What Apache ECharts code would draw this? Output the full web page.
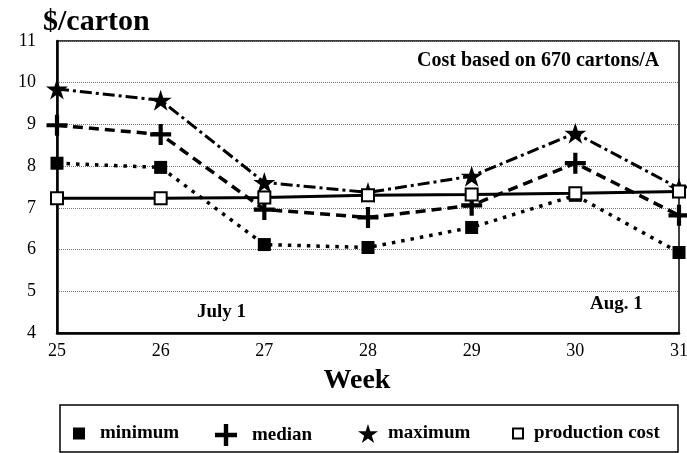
<!DOCTYPE html>
<html>
<head>
<meta charset="utf-8">
<script src="https://cdn.jsdelivr.net/npm/echarts@6/dist/echarts.min.js"></script>
<style>
    html, body { margin: 0; padding: 0; background: #fff; }
    #main { width: 687px; height: 453px; }
</style>
</head>
<body>
<div id="main"></div>
<script>
const weeks = ['25', '26', '27', '28', '29', '30', '31'];
const minimum = [8.07, 7.97, 6.12, 6.05, 6.53, 7.3, 5.93];
const median = [8.98, 8.76, 6.96, 6.77, 7.06, 8.07, 6.82];
const maximum = [9.85, 9.58, 7.61, 7.37, 7.76, 8.79, 7.47];
const production = [7.23, 7.23, 7.25, 7.3, 7.32, 7.35, 7.39];
const yMin = 4;
const yMax = 11;
const yStep = 1;

const serif = 'Liberation Serif';
const plusIcon = 'path://M4,0H6V4H10V6H6V10H4V6H0V4H4Z';
const starIcon = 'path://M10,0L12.23,6.93L19.51,6.91L13.61,11.17L15.88,18.09L10,13.8L4.12,18.09L6.39,11.17L0.49,6.91L7.77,6.93Z';

const chart = echarts.init(document.getElementById('main'), null, { renderer: 'canvas' });

function legendAt(name, icon, left, w, h, gap) {
    return {
        data: [{ name: name, icon: icon }],
        left: left,
        top: 424,
        padding: 0,
        itemWidth: w,
        itemHeight: h,
        selectedMode: false,
        textStyle: {
            fontFamily: serif,
            fontWeight: 'bold',
            fontSize: 19,
            color: '#000',
            padding: [0, 0, 0, gap],
        },
    };
}

chart.setOption({
    animation: false,
    title: {
        text: '$/carton',
        left: 38,
        top: 2,
        textStyle: { fontFamily: serif, fontWeight: 'bold', fontSize: 30, color: '#000' },
    },
    grid: {
        left: 57,
        right: 8,
        top: 41,
        bottom: 120,
        outerBoundsMode: 'none',
        show: true,
        borderColor: '#000',
        borderWidth: 1.5,
    },
    legend: [
        legendAt('minimum', 'rect', 73, 12, 12, 10),
        legendAt('median', plusIcon, 215, 22, 22, 10),
        legendAt('maximum', starIcon, 358, 20, 19, 5),
        legendAt('production cost', 'rect', 512, 10, 10, 6),
    ],
    xAxis: {
        type: 'category',
        data: weeks,
        boundaryGap: false,
        name: 'Week',
        nameLocation: 'middle',
        nameGap: 34,
        nameTextStyle: {
            fontFamily: serif, fontWeight: 'bold', fontSize: 28, color: '#000',
            padding: [0, 22, 0, 0],
        },
        axisLine: { lineStyle: { color: '#000', width: 2.5 } },
        axisTick: { show: false },
        axisLabel: { fontFamily: serif, fontSize: 18, color: '#000', margin: 9 },
        splitLine: { show: false },
    },
    yAxis: {
        type: 'value',
        min: yMin,
        max: yMax,
        interval: yStep,
        axisLine: { show: true, lineStyle: { color: '#000', width: 2.5 } },
        axisTick: { show: false },
        axisLabel: { fontFamily: serif, fontSize: 18, color: '#000', margin: 21 },
        splitLine: { lineStyle: { color: '#777', type: 'dotted', width: 1 } },
    },
    graphic: [
        {
            type: 'rect',
            shape: { x: 60, y: 405, width: 618, height: 47 },
            style: { fill: 'none', stroke: '#000', lineWidth: 1.5 },
        },
        {
            type: 'text', left: 417, top: 51,
            style: { text: 'Cost based on 670 cartons/A', font: 'bold 20px "Liberation Serif"', fill: '#000' },
        },
        {
            type: 'text', left: 197, top: 303,
            style: { text: 'July 1', font: 'bold 19px "Liberation Serif"', fill: '#000' },
        },
        {
            type: 'text', left: 590, top: 295,
            style: { text: 'Aug. 1', font: 'bold 19px "Liberation Serif"', fill: '#000' },
        },
    ],
    series: [
        {
            name: 'minimum',
            type: 'line',
            data: minimum,
            symbol: 'rect',
            symbolSize: 13,
            itemStyle: { color: '#000' },
            lineStyle: { color: '#000', width: 3.5, type: [3.5, 6], cap: 'butt' },
            z: 2,
        },
        {
            name: 'median',
            type: 'line',
            data: median,
            symbol: plusIcon,
            symbolSize: 21,
            itemStyle: { color: '#000' },
            lineStyle: { color: '#000', width: 3.5, type: [10, 6], cap: 'butt' },
            z: 3,
        },
        {
            name: 'maximum',
            type: 'line',
            data: maximum,
            symbol: starIcon,
            symbolSize: [22, 21],
            itemStyle: { color: '#000' },
            lineStyle: { color: '#000', width: 3, type: [12, 4, 3, 4], cap: 'butt' },
            z: 4,
        },
        {
            name: 'production cost',
            type: 'line',
            data: production,
            symbol: 'rect',
            symbolSize: 12,
            itemStyle: { color: '#fff', borderColor: '#000', borderWidth: 2 },
            lineStyle: { color: '#000', width: 3 },
            z: 5,
        },
    ],
});
</script>
</body>
</html>
